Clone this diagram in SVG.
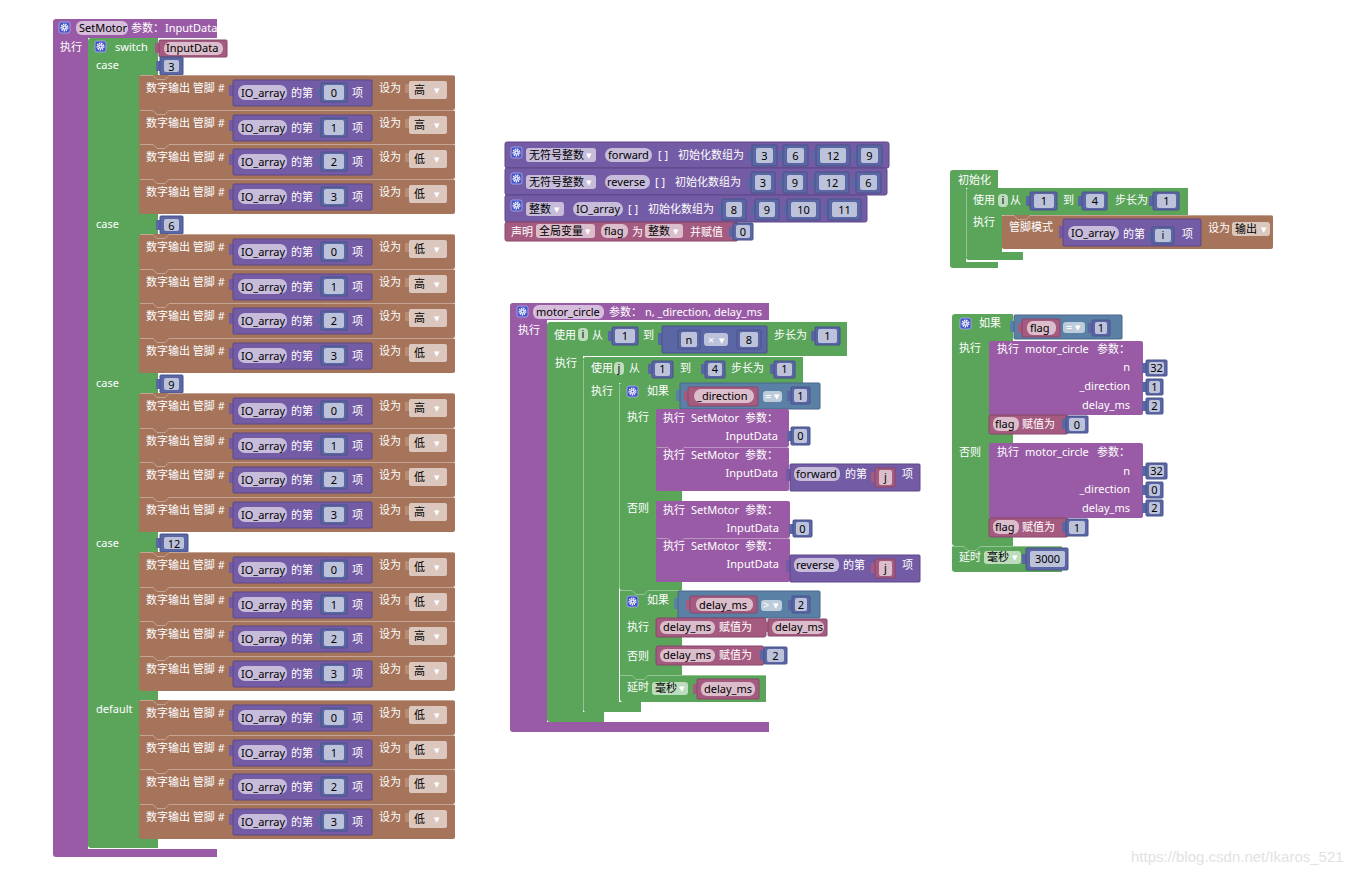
<svg xmlns="http://www.w3.org/2000/svg" width="1362" height="874" viewBox="0 0 1362 874">
<style>
.t{font-family:"Noto Sans","Noto Sans CJK SC",sans-serif;font-size:11px;fill:#fff}
.k{fill:#000}
.m{text-anchor:middle}
.e{text-anchor:end}
.ar{font-family:"DejaVu Sans",sans-serif;font-size:7px;fill:#fff}
.proc{fill:#995ba5}
.loop{fill:#5ba55b}
.io{fill:#a5745b}
.arr{fill:#745ba5;stroke:#5c4885;stroke-width:1}
.num{fill:#5b67a5;stroke:#48528a;stroke-width:1}
.var{fill:#a55b80;stroke:#86496a;stroke-width:1}
.cmp{fill:#5b80a5;stroke:#48678a;stroke-width:1}
.f{fill:#fff;fill-opacity:.6}
.hl{fill:none;stroke:#fff;stroke-opacity:.35;stroke-width:1}
.tA{fill:#745ba5}
.tN{fill:#5b67a5}
.tV{fill:#a55b80}
.tC{fill:#5b80a5}
.tB{fill:#b98c76}
</style>
<defs>
<g id="gear"><rect width="11" height="11" rx="2" fill="#4553c9" stroke="#aab2ee" stroke-width=".8"/><circle cx="5.5" cy="5.5" r="3.2" fill="none" stroke="#fff" stroke-width="1.6" stroke-dasharray="1.3 0.9"/><circle cx="5.5" cy="5.5" r="2.3" fill="#fff"/><circle cx="5.5" cy="5.5" r="1" fill="#4553c9"/></g>
<g id="ioRow">
<rect class="io" x="0" y="0" width="316" height="35" rx="2"/>
<path class="hl" d="M1,0.5 H14 l4,4 h8 l4,-4 H316"/>
<text class="t" x="7" y="17">数字输出 管脚 #</text>
<rect class="tA" x="90" y="10" width="5" height="11"/>
<rect class="arr" x="94" y="5" width="139" height="26" rx="1"/>
<rect class="f" x="99" y="10" width="49" height="15" rx="7"/>
<text class="t k" x="102" y="21.5">IO_array</text>
<text class="t" x="152" y="22">的第</text>
<rect class="tN" x="178" y="12" width="5" height="10"/>
<rect class="num" x="182" y="8" width="26" height="19" rx="1"/>
<rect class="f" x="185" y="10" width="20" height="15" rx="2"/>
<text class="t" x="213" y="22">项</text>
<text class="t" x="240" y="17">设为</text>
<rect class="tB" x="266" y="9" width="5" height="9"/>
<rect class="f" x="270" y="6" width="38" height="18" rx="2"/>
<text class="ar" x="295" y="18">▼</text>
</g>
</defs>
<rect width="1362" height="874" fill="#fff"/>

<!-- SetMotor procedure -->
<g id="setmotor">
<path class="proc" d="M53,22 q0,-3 3,-3 H217 V38 H88 V849 H217 V857 H56 q-3,0 -3,-3 Z"/>
<use href="#gear" x="59" y="22"/>
<rect class="f" x="76" y="21" width="52" height="14" rx="6"/>
<text class="t k" x="79" y="32">SetMotor</text>
<text class="t" x="131" y="32">参数：</text>
<text class="t" x="165" y="32">InputData</text>
<text class="t" x="60" y="51">执行</text>
</g>

<g id="switch">
<path class="loop" d="M88,41 q0,-3 3,-3 H158 V848 H91 q-3,0 -3,-3 Z"/>
<use href="#gear" x="95" y="41"/>
<text class="t" x="115" y="51">switch</text>
<rect class="tV" x="155" y="43" width="5" height="10"/>
<rect class="var" x="159" y="40" width="68" height="17" rx="1"/>
<rect class="f" x="164" y="42" width="59" height="13" rx="6"/>
<text class="t k" x="166" y="52">InputData</text>
</g>

<g id="case3">
<text class="t" x="96" y="69">case</text>
<rect class="tN" x="156" y="61" width="5" height="10"/>
<rect class="num" x="160" y="57" width="23" height="18" rx="1"/>
<rect class="f" x="164" y="60" width="15" height="12" rx="2"/>
<text class="t k m" x="171.5" y="70.5">3</text>
<use href="#ioRow" x="139" y="75"/><text class="t k m" x="334" y="97">0</text><text class="t k" x="414" y="94">高</text>
<use href="#ioRow" x="139" y="110"/><text class="t k m" x="334" y="132">1</text><text class="t k" x="414" y="129">高</text>
<use href="#ioRow" x="139" y="144"/><text class="t k m" x="334" y="166">2</text><text class="t k" x="414" y="163">低</text>
<use href="#ioRow" x="139" y="179"/><text class="t k m" x="334" y="201">3</text><text class="t k" x="414" y="198">低</text>
</g>

<g id="case6">
<text class="t" x="96" y="228">case</text>
<rect class="tN" x="156" y="220" width="5" height="10"/>
<rect class="num" x="160" y="216" width="23" height="18" rx="1"/>
<rect class="f" x="164" y="219" width="15" height="12" rx="2"/>
<text class="t k m" x="171.5" y="229.5">6</text>
<use href="#ioRow" x="139" y="234"/><text class="t k m" x="334" y="256">0</text><text class="t k" x="414" y="253">低</text>
<use href="#ioRow" x="139" y="269"/><text class="t k m" x="334" y="291">1</text><text class="t k" x="414" y="288">高</text>
<use href="#ioRow" x="139" y="303"/><text class="t k m" x="334" y="325">2</text><text class="t k" x="414" y="322">高</text>
<use href="#ioRow" x="139" y="338"/><text class="t k m" x="334" y="360">3</text><text class="t k" x="414" y="357">低</text>
</g>

<g id="case9">
<text class="t" x="96" y="387">case</text>
<rect class="tN" x="156" y="379" width="5" height="10"/>
<rect class="num" x="160" y="375" width="23" height="18" rx="1"/>
<rect class="f" x="164" y="378" width="15" height="12" rx="2"/>
<text class="t k m" x="171.5" y="388.5">9</text>
<use href="#ioRow" x="139" y="393"/><text class="t k m" x="334" y="415">0</text><text class="t k" x="414" y="412">高</text>
<use href="#ioRow" x="139" y="428"/><text class="t k m" x="334" y="450">1</text><text class="t k" x="414" y="447">低</text>
<use href="#ioRow" x="139" y="462"/><text class="t k m" x="334" y="484">2</text><text class="t k" x="414" y="481">低</text>
<use href="#ioRow" x="139" y="497"/><text class="t k m" x="334" y="519">3</text><text class="t k" x="414" y="516">高</text>
</g>

<g id="case12">
<text class="t" x="96" y="547">case</text>
<rect class="tN" x="156" y="538" width="5" height="10"/>
<rect class="num" x="160" y="534" width="28" height="18" rx="1"/>
<rect class="f" x="164" y="537" width="20" height="12" rx="2"/>
<text class="t k m" x="174" y="547.5">12</text>
<use href="#ioRow" x="139" y="552"/><text class="t k m" x="334" y="574">0</text><text class="t k" x="414" y="571">低</text>
<use href="#ioRow" x="139" y="587"/><text class="t k m" x="334" y="609">1</text><text class="t k" x="414" y="606">低</text>
<use href="#ioRow" x="139" y="621"/><text class="t k m" x="334" y="643">2</text><text class="t k" x="414" y="640">高</text>
<use href="#ioRow" x="139" y="656"/><text class="t k m" x="334" y="678">3</text><text class="t k" x="414" y="675">高</text>
</g>

<g id="default">
<text class="t" x="96" y="713">default</text>
<use href="#ioRow" x="139" y="700"/><text class="t k m" x="334" y="722">0</text><text class="t k" x="414" y="719">低</text>
<use href="#ioRow" x="139" y="735"/><text class="t k m" x="334" y="757">1</text><text class="t k" x="414" y="754">低</text>
<use href="#ioRow" x="139" y="769"/><text class="t k m" x="334" y="791">2</text><text class="t k" x="414" y="788">低</text>
<use href="#ioRow" x="139" y="804"/><text class="t k m" x="334" y="826">3</text><text class="t k" x="414" y="823">低</text>
</g>

<!-- Declarations -->
<g id="decl-forward">
<rect class="arr" x="505" y="142" width="384" height="26" rx="2"/>
<use href="#gear" x="511" y="147"/>
<rect class="f" x="526" y="148" width="70" height="14" rx="3"/>
<text class="t k" x="529" y="159">无符号整数</text><text class="ar" x="586" y="158">▼</text>
<rect class="f" x="605" y="148" width="47" height="14" rx="7"/>
<text class="t k" x="608" y="159">forward</text>
<text class="t" x="658" y="159">[ ]</text>
<text class="t" x="678" y="159">初始化数组为</text>
<rect class="tN" x="748" y="151" width="5" height="10"/><rect class="num" x="752" y="145" width="25" height="21" rx="1"/><rect class="f" x="756" y="148" width="17" height="15" rx="2"/><text class="t k m" x="764.5" y="160">3</text>
<rect class="tN" x="779" y="151" width="5" height="10"/><rect class="num" x="783" y="145" width="25" height="21" rx="1"/><rect class="f" x="787" y="148" width="17" height="15" rx="2"/><text class="t k m" x="795.5" y="160">6</text>
<rect class="tN" x="812" y="151" width="5" height="10"/><rect class="num" x="816" y="145" width="34" height="21" rx="1"/><rect class="f" x="820" y="148" width="26" height="15" rx="2"/><text class="t k m" x="833" y="160">12</text>
<rect class="tN" x="853" y="151" width="5" height="10"/><rect class="num" x="857" y="145" width="25" height="21" rx="1"/><rect class="f" x="861" y="148" width="17" height="15" rx="2"/><text class="t k m" x="869.5" y="160">9</text>
</g>

<g id="decl-reverse">
<rect class="arr" x="505" y="168" width="382" height="27" rx="2"/>
<use href="#gear" x="511" y="173"/>
<rect class="f" x="526" y="175" width="70" height="14" rx="3"/>
<text class="t k" x="529" y="186">无符号整数</text><text class="ar" x="586" y="185">▼</text>
<rect class="f" x="605" y="175" width="45" height="14" rx="7"/>
<text class="t k" x="607" y="186">reverse</text>
<text class="t" x="655" y="186">[ ]</text>
<text class="t" x="675" y="186">初始化数组为</text>
<rect class="tN" x="747" y="178" width="5" height="10"/><rect class="num" x="751" y="172" width="24" height="21" rx="1"/><rect class="f" x="755" y="175" width="16" height="15" rx="2"/><text class="t k m" x="763" y="187">3</text>
<rect class="tN" x="779" y="178" width="5" height="10"/><rect class="num" x="783" y="172" width="24" height="21" rx="1"/><rect class="f" x="787" y="175" width="16" height="15" rx="2"/><text class="t k m" x="795" y="187">9</text>
<rect class="tN" x="811" y="178" width="5" height="10"/><rect class="num" x="815" y="172" width="34" height="21" rx="1"/><rect class="f" x="819" y="175" width="26" height="15" rx="2"/><text class="t k m" x="832" y="187">12</text>
<rect class="tN" x="852" y="178" width="5" height="10"/><rect class="num" x="856" y="172" width="25" height="21" rx="1"/><rect class="f" x="860" y="175" width="17" height="15" rx="2"/><text class="t k m" x="868.5" y="187">6</text>
</g>

<g id="decl-ioarray">
<rect class="arr" x="505" y="195" width="362" height="27" rx="2"/>
<use href="#gear" x="511" y="200"/>
<rect class="f" x="526" y="202" width="38" height="14" rx="3"/>
<text class="t k" x="529" y="213">整数</text><text class="ar" x="554" y="212">▼</text>
<rect class="f" x="573" y="202" width="50" height="14" rx="7"/>
<text class="t k" x="576" y="213">IO_array</text>
<text class="t" x="628" y="213">[ ]</text>
<text class="t" x="648" y="213">初始化数组为</text>
<rect class="tN" x="718" y="205" width="5" height="10"/><rect class="num" x="722" y="199" width="24" height="21" rx="1"/><rect class="f" x="726" y="202" width="16" height="15" rx="2"/><text class="t k m" x="734" y="214">8</text>
<rect class="tN" x="751" y="205" width="5" height="10"/><rect class="num" x="755" y="199" width="24" height="21" rx="1"/><rect class="f" x="759" y="202" width="16" height="15" rx="2"/><text class="t k m" x="767" y="214">9</text>
<rect class="tN" x="783" y="205" width="5" height="10"/><rect class="num" x="787" y="199" width="33" height="21" rx="1"/><rect class="f" x="791" y="202" width="25" height="15" rx="2"/><text class="t k m" x="803.5" y="214">10</text>
<rect class="tN" x="824" y="205" width="5" height="10"/><rect class="num" x="828" y="199" width="33" height="21" rx="1"/><rect class="f" x="832" y="202" width="25" height="15" rx="2"/><text class="t k m" x="844.5" y="214">11</text>
</g>

<g id="decl-flag">
<rect class="var" x="505" y="222" width="233" height="19" rx="2"/>
<text class="t" x="511" y="236">声明</text>
<rect class="f" x="536" y="224" width="59" height="14" rx="3"/>
<text class="t k" x="539" y="235">全局变量</text><text class="ar" x="585" y="234">▼</text>
<rect class="f" x="601" y="224" width="27" height="14" rx="6"/>
<text class="t k" x="604" y="235">flag</text>
<text class="t" x="632" y="236">为</text>
<rect class="f" x="645" y="224" width="38" height="14" rx="3"/>
<text class="t k" x="648" y="235">整数</text><text class="ar" x="673" y="234">▼</text>
<text class="t" x="690" y="236">并赋值</text>
<rect class="tN" x="729" y="227" width="5" height="10"/><rect class="num" x="733" y="223" width="20" height="17" rx="1"/><rect class="f" x="736" y="225" width="14" height="13" rx="2"/><text class="t k m" x="743" y="236">0</text>
</g>

<!-- motor_circle procedure -->
<g id="motor_circle">
<path class="proc" d="M510,306 q0,-3 3,-3 H769 V320 H547 V722 H769 V732 H513 q-3,0 -3,-3 Z"/>
<use href="#gear" x="517" y="306"/>
<rect class="f" x="533" y="305" width="71" height="14" rx="6"/>
<text class="t k" x="536" y="316">motor_circle</text>
<text class="t" x="609" y="316">参数：</text>
<text class="t" x="645" y="316">n, _direction, delay_ms</text>
<text class="t" x="518" y="334">执行</text>
</g>

<g id="loop-i">
<path class="loop" d="M547,325 q0,-3 3,-3 H847 V356 H583 V712 H604 V722 H550 q-3,0 -3,-3 Z"/>
<text class="t" x="554" y="339">使用</text>
<rect class="f" x="578" y="328" width="10" height="13" rx="4"/><text class="t k m" x="583" y="338">i</text>
<text class="t" x="592" y="339">从</text>
<rect class="tN" x="608" y="331" width="5" height="10"/><rect class="num" x="612" y="327" width="26" height="18" rx="1"/><rect class="f" x="615" y="329" width="20" height="14" rx="2"/><text class="t k m" x="625" y="340">1</text>
<text class="t" x="643" y="339">到</text>
<rect class="tN" x="658" y="333" width="5" height="12"/>
<rect class="num" x="662" y="326" width="105" height="27" rx="1"/>
<rect class="tN" x="674" y="334" width="5" height="10"/><rect class="num" x="678" y="330" width="22" height="19" rx="1"/><rect class="f" x="681" y="332" width="16" height="15" rx="2"/><text class="t k m" x="689" y="344">n</text>
<rect class="f" x="704" y="333" width="24" height="13" rx="3"/><text class="t" x="708" y="344">×</text><text class="ar" x="719" y="343">▼</text>
<rect class="tN" x="733" y="334" width="5" height="10"/><rect class="num" x="737" y="330" width="24" height="19" rx="1"/><rect class="f" x="740" y="332" width="18" height="15" rx="2"/><text class="t k m" x="749" y="344">8</text>
<text class="t" x="774" y="339">步长为</text>
<rect class="tN" x="811" y="331" width="5" height="10"/><rect class="num" x="815" y="327" width="25" height="18" rx="1"/><rect class="f" x="818" y="329" width="19" height="14" rx="2"/><text class="t k m" x="827.5" y="340">1</text>
<text class="t" x="555" y="367">执行</text>
</g>

<g id="loop-j">
<path class="loop" d="M583,360 q0,-3 3,-3 H803 V383 H619 V702 H641 V712 H586 q-3,0 -3,-3 Z"/>
<path class="hl" d="M583.5,712 V360"/>
<text class="t" x="591" y="372">使用</text>
<rect class="f" x="614" y="362" width="10" height="13" rx="4"/><text class="t k m" x="619" y="372">j</text>
<text class="t" x="629" y="372">从</text>
<rect class="tN" x="648" y="364" width="5" height="10"/><rect class="num" x="652" y="361" width="21" height="17" rx="1"/><rect class="f" x="655" y="363" width="15" height="13" rx="2"/><text class="t k m" x="662.5" y="373">1</text>
<text class="t" x="680" y="372">到</text>
<rect class="tN" x="701" y="364" width="5" height="10"/><rect class="num" x="705" y="361" width="20" height="17" rx="1"/><rect class="f" x="708" y="363" width="14" height="13" rx="2"/><text class="t k m" x="715" y="373">4</text>
<text class="t" x="731" y="372">步长为</text>
<rect class="tN" x="770" y="364" width="5" height="10"/><rect class="num" x="774" y="361" width="21" height="17" rx="1"/><rect class="f" x="777" y="363" width="15" height="13" rx="2"/><text class="t k m" x="784.5" y="373">1</text>
<text class="t" x="591" y="395">执行</text>
</g>

<g id="if-direction">
<path class="loop" d="M619,386 q0,-3 3,-3 H682 V590 H622 q-3,0 -3,-3 Z"/>
<path class="hl" d="M619.5,590 V386"/>
<use href="#gear" x="627" y="386"/>
<text class="t" x="647" y="395">如果</text>
<rect class="tC" x="676" y="390" width="5" height="11"/>
<rect class="cmp" x="680" y="383" width="140" height="26" rx="1"/>
<rect class="tV" x="684" y="391" width="5" height="10"/><rect class="var" x="688" y="387" width="70" height="19" rx="1"/>
<rect class="f" x="694" y="389" width="60" height="14" rx="7"/><text class="t k" x="697" y="400">_direction</text>
<rect class="f" x="763" y="391" width="19" height="11" rx="3"/><text class="t" x="765" y="400">=</text><text class="ar" x="774" y="399">▼</text>
<rect class="tN" x="787" y="391" width="5" height="10"/><rect class="num" x="791" y="387" width="19" height="17" rx="1"/><rect class="f" x="794" y="389" width="13" height="13" rx="2"/><text class="t k m" x="800.5" y="400">1</text>
<text class="t" x="627" y="421">执行</text>
<text class="t" x="627" y="512">否则</text>
</g>

<g id="call-setmotor-1">
<rect class="proc" x="656" y="409" width="133" height="38" rx="2"/>
<text class="t" y="422"><tspan x="663">执行</tspan><tspan x="691">SetMotor</tspan><tspan x="745">参数：</tspan></text>
<text class="t e" x="778" y="440">InputData</text>
<rect class="tN" x="787" y="431" width="5" height="10"/><rect class="num" x="791" y="427" width="19" height="18" rx="1"/><rect class="f" x="794" y="429" width="13" height="14" rx="2"/><text class="t k m" x="800.5" y="440">0</text>
</g>

<g id="call-setmotor-2">
<rect class="proc" x="656" y="447" width="133" height="44" rx="2"/>
<path class="hl" d="M657,447.5 H668 l4,4 h8 l4,-4 H789"/>
<text class="t" y="459"><tspan x="663">执行</tspan><tspan x="691">SetMotor</tspan><tspan x="745">参数：</tspan></text>
<text class="t e" x="778" y="477">InputData</text>
<rect class="tA" x="786" y="469" width="5" height="12"/>
<rect class="arr" x="790" y="464" width="130" height="27" rx="1"/>
<rect class="f" x="794" y="467" width="46" height="14" rx="6"/><text class="t k" x="796" y="478">forward</text>
<text class="t" x="845" y="478">的第</text>
<rect class="tV" x="871" y="472" width="5" height="10"/><rect class="var" x="875" y="468" width="20" height="19" rx="1"/><rect class="f" x="879" y="470" width="13" height="15" rx="2"/><text class="t k m" x="885.5" y="481">j</text>
<text class="t" x="902" y="478">项</text>
</g>

<g id="call-setmotor-3">
<rect class="proc" x="656" y="501" width="134" height="37" rx="2"/>
<text class="t" y="514"><tspan x="663">执行</tspan><tspan x="691">SetMotor</tspan><tspan x="745">参数：</tspan></text>
<text class="t e" x="779" y="532">InputData</text>
<rect class="tN" x="789" y="524" width="5" height="10"/><rect class="num" x="793" y="520" width="19" height="17" rx="1"/><rect class="f" x="796" y="522" width="13" height="13" rx="2"/><text class="t k m" x="802.5" y="533">0</text>
</g>

<g id="call-setmotor-4">
<rect class="proc" x="656" y="538" width="134" height="44" rx="2"/>
<path class="hl" d="M657,538.5 H668 l4,4 h8 l4,-4 H790"/>
<text class="t" y="550"><tspan x="663">执行</tspan><tspan x="691">SetMotor</tspan><tspan x="745">参数：</tspan></text>
<text class="t e" x="779" y="568">InputData</text>
<rect class="tA" x="786" y="560" width="5" height="12"/>
<rect class="arr" x="790" y="555" width="130" height="27" rx="1"/>
<rect class="f" x="794" y="558" width="45" height="14" rx="6"/><text class="t k" x="796" y="569">reverse</text>
<text class="t" x="843" y="569">的第</text>
<rect class="tV" x="871" y="563" width="5" height="10"/><rect class="var" x="875" y="559" width="20" height="19" rx="1"/><rect class="f" x="879" y="561" width="13" height="15" rx="2"/><text class="t k m" x="885.5" y="572">j</text>
<text class="t" x="902" y="569">项</text>
</g>

<g id="if-delay">
<path class="loop" d="M620,590 H682 V675 H620 Z"/>
<path class="hl" d="M620,590.5 H632 l4,4 h8 l4,-4 H682"/>
<use href="#gear" x="627" y="596"/>
<text class="t" x="647" y="604">如果</text>
<rect class="tC" x="674" y="598" width="5" height="11"/>
<rect class="cmp" x="678" y="591" width="142" height="27" rx="1"/>
<rect class="tV" x="686" y="600" width="5" height="10"/><rect class="var" x="690" y="596" width="67" height="17" rx="1"/>
<rect class="f" x="696" y="598" width="57" height="13" rx="6"/><text class="t k" x="699" y="609">delay_ms</text>
<rect class="f" x="761" y="600" width="21" height="11" rx="3"/><text class="t" x="763" y="609">&gt;</text><text class="ar" x="773" y="608">▼</text>
<rect class="tN" x="788" y="600" width="5" height="10"/><rect class="num" x="792" y="596" width="18" height="17" rx="1"/><rect class="f" x="795" y="598" width="12" height="13" rx="2"/><text class="t k m" x="801" y="609">2</text>
<text class="t" x="627" y="631">执行</text>
<text class="t" x="627" y="660">否则</text>
</g>

<g id="assign-delay-1">
<rect class="var" x="656" y="618" width="110" height="19" rx="2"/>
<rect class="f" x="660" y="621" width="55" height="13" rx="6"/><text class="t k" x="663" y="631">delay_ms</text>
<text class="t" x="719" y="631">赋值为</text>
<rect class="tV" x="764" y="622" width="5" height="10"/><rect class="var" x="768" y="619" width="59" height="17" rx="1"/>
<rect class="f" x="772" y="621" width="52" height="13" rx="6"/><text class="t k" x="775" y="631">delay_ms</text>
</g>

<g id="assign-delay-2">
<rect class="var" x="656" y="646" width="108" height="19" rx="2"/>
<rect class="f" x="660" y="649" width="55" height="13" rx="6"/><text class="t k" x="663" y="659">delay_ms</text>
<text class="t" x="719" y="659">赋值为</text>
<rect class="tN" x="760" y="650" width="5" height="10"/><rect class="num" x="764" y="647" width="23" height="17" rx="1"/><rect class="f" x="767" y="649" width="17" height="13" rx="2"/><text class="t k m" x="775.5" y="660">2</text>
</g>

<g id="delay-1">
<path class="loop" d="M620,675 H766 V702 H623 q-3,0 -3,-3 Z"/>
<path class="hl" d="M620,675.5 H632 l4,4 h8 l4,-4 H766"/>
<text class="t" x="627" y="691">延时</text>
<rect class="f" x="652" y="682" width="36" height="13" rx="3"/><text class="t k" x="655" y="692">毫秒</text><text class="ar" x="679" y="691">▼</text>
<rect class="tV" x="693" y="684" width="5" height="10"/><rect class="var" x="697" y="679" width="62" height="20" rx="1"/>
<rect class="f" x="701" y="682" width="54" height="14" rx="6"/><text class="t k" x="704" y="693">delay_ms</text>
</g>

<!-- setup -->
<g id="setup">
<path class="loop" d="M950,173 q0,-3 3,-3 H998 V188 H966 V262 H998 V268 H953 q-3,0 -3,-3 Z"/>
<text class="t" x="958" y="184">初始化</text>
</g>

<g id="loop-setup">
<path class="loop" d="M966,191 q0,-3 3,-3 H1188 V215 H1002 V252 H1023 V260 H969 q-3,0 -3,-3 Z"/>
<path class="hl" d="M966.5,257 V191"/>
<text class="t" x="973" y="204">使用</text>
<rect class="f" x="998" y="194" width="10" height="13" rx="4"/><text class="t k m" x="1003" y="204">i</text>
<text class="t" x="1010" y="204">从</text>
<rect class="tN" x="1026" y="196" width="5" height="10"/><rect class="num" x="1030" y="192" width="27" height="18" rx="1"/><rect class="f" x="1034" y="194" width="20" height="14" rx="2"/><text class="t k m" x="1044" y="205">1</text>
<text class="t" x="1063" y="204">到</text>
<rect class="tN" x="1078" y="196" width="5" height="10"/><rect class="num" x="1082" y="192" width="25" height="18" rx="1"/><rect class="f" x="1086" y="194" width="18" height="14" rx="2"/><text class="t k m" x="1095" y="205">4</text>
<text class="t" x="1115" y="204">步长为</text>
<rect class="tN" x="1149" y="196" width="5" height="10"/><rect class="num" x="1153" y="192" width="26" height="18" rx="1"/><rect class="f" x="1157" y="194" width="19" height="14" rx="2"/><text class="t k m" x="1166.5" y="205">1</text>
<text class="t" x="973" y="226">执行</text>
</g>

<g id="pinmode">
<rect class="io" x="1002" y="215" width="271" height="34" rx="2"/>
<path class="hl" d="M1003,215.5 H1014 l4,4 h8 l4,-4 H1273"/>
<text class="t" x="1009" y="231">管脚模式</text>
<rect class="tA" x="1059" y="226" width="5" height="12"/>
<rect class="arr" x="1063" y="219" width="138" height="27" rx="1"/>
<rect class="f" x="1068" y="226" width="51" height="14" rx="7"/><text class="t k" x="1071" y="237">IO_array</text>
<text class="t" x="1123" y="238">的第</text>
<rect class="tN" x="1148" y="231" width="5" height="10"/><rect class="num" x="1152" y="227" width="22" height="17" rx="1"/><rect class="f" x="1155" y="229" width="16" height="13" rx="2"/><text class="t k m" x="1163" y="239">i</text>
<text class="t" x="1182" y="238">项</text>
<text class="t" x="1208" y="232">设为</text>
<rect class="f" x="1232" y="222" width="38" height="14" rx="3"/><text class="t k" x="1235" y="233">输出</text><text class="ar" x="1261" y="232">▼</text>
</g>

<!-- if flag -->
<g id="if-flag">
<path class="loop" d="M952,317 q0,-3 3,-3 H1013 V546 H955 q-3,0 -3,-3 Z"/>
<use href="#gear" x="960" y="318"/>
<text class="t" x="979" y="327">如果</text>
<rect class="tC" x="1010" y="321" width="5" height="11"/>
<rect class="cmp" x="1014" y="315" width="108" height="24" rx="1"/>
<rect class="tV" x="1018" y="323" width="5" height="10"/><rect class="var" x="1022" y="319" width="38" height="18" rx="1"/>
<rect class="f" x="1027" y="321" width="29" height="14" rx="6"/><text class="t k" x="1030" y="332">flag</text>
<rect class="f" x="1063" y="322" width="22" height="11" rx="3"/><text class="t" x="1066" y="331">=</text><text class="ar" x="1075" y="330">▼</text>
<rect class="tN" x="1088" y="323" width="5" height="10"/><rect class="num" x="1092" y="320" width="18" height="16" rx="1"/><rect class="f" x="1095" y="322" width="12" height="12" rx="2"/><text class="t k m" x="1101" y="332">1</text>
<text class="t" x="959" y="352">执行</text>
<text class="t" x="959" y="456">否则</text>
</g>

<g id="call-mc-1">
<rect class="proc" x="989" y="341" width="154" height="74" rx="2"/>
<text class="t" y="353"><tspan x="997">执行</tspan><tspan x="1025">motor_circle</tspan><tspan x="1097">参数：</tspan></text>
<text class="t e" x="1130" y="371">n</text>
<rect class="tN" x="1142" y="363" width="5" height="10"/><rect class="num" x="1146" y="360" width="21" height="16" rx="1"/><rect class="f" x="1149" y="362" width="15" height="12" rx="2"/><text class="t k m" x="1156.5" y="372">32</text>
<text class="t e" x="1130" y="390">_direction</text>
<rect class="tN" x="1142" y="382" width="5" height="10"/><rect class="num" x="1146" y="379" width="17" height="16" rx="1"/><rect class="f" x="1149" y="381" width="11" height="12" rx="2"/><text class="t k m" x="1154.5" y="391">1</text>
<text class="t e" x="1130" y="409">delay_ms</text>
<rect class="tN" x="1142" y="401" width="5" height="10"/><rect class="num" x="1146" y="398" width="17" height="16" rx="1"/><rect class="f" x="1149" y="400" width="11" height="12" rx="2"/><text class="t k m" x="1154.5" y="410">2</text>
</g>

<g id="assign-flag-0">
<rect class="var" x="989" y="415" width="79" height="19" rx="2"/>
<rect class="f" x="993" y="417" width="26" height="14" rx="6"/><text class="t k" x="995" y="428">flag</text>
<text class="t" x="1022" y="428">赋值为</text>
<rect class="tN" x="1062" y="419" width="5" height="10"/><rect class="num" x="1066" y="416" width="22" height="17" rx="1"/><rect class="f" x="1069" y="418" width="16" height="13" rx="2"/><text class="t k m" x="1077" y="429">0</text>
</g>

<g id="call-mc-2">
<rect class="proc" x="989" y="443" width="154" height="75" rx="2"/>
<text class="t" y="456"><tspan x="997">执行</tspan><tspan x="1025">motor_circle</tspan><tspan x="1097">参数：</tspan></text>
<text class="t e" x="1130" y="475">n</text>
<rect class="tN" x="1142" y="466" width="5" height="10"/><rect class="num" x="1146" y="463" width="21" height="16" rx="1"/><rect class="f" x="1149" y="465" width="15" height="12" rx="2"/><text class="t k m" x="1156.5" y="475">32</text>
<text class="t e" x="1130" y="493">_direction</text>
<rect class="tN" x="1142" y="485" width="5" height="10"/><rect class="num" x="1146" y="482" width="17" height="16" rx="1"/><rect class="f" x="1149" y="484" width="11" height="12" rx="2"/><text class="t k m" x="1154.5" y="494">0</text>
<text class="t e" x="1130" y="512">delay_ms</text>
<rect class="tN" x="1142" y="503" width="5" height="10"/><rect class="num" x="1146" y="500" width="17" height="16" rx="1"/><rect class="f" x="1149" y="502" width="11" height="12" rx="2"/><text class="t k m" x="1154.5" y="512">2</text>
</g>

<g id="assign-flag-1">
<rect class="var" x="989" y="518" width="79" height="19" rx="2"/>
<rect class="f" x="993" y="520" width="26" height="14" rx="6"/><text class="t k" x="995" y="531">flag</text>
<text class="t" x="1022" y="531">赋值为</text>
<rect class="tN" x="1062" y="522" width="5" height="10"/><rect class="num" x="1066" y="519" width="22" height="17" rx="1"/><rect class="f" x="1069" y="521" width="16" height="13" rx="2"/><text class="t k m" x="1077" y="532">1</text>
</g>

<g id="delay-2">
<path class="loop" d="M952,546 H1062 V572 H955 q-3,0 -3,-3 Z"/>
<path class="hl" d="M952,546.5 H964 l4,4 h8 l4,-4 H1062"/>
<text class="t" x="959" y="561">延时</text>
<rect class="f" x="984" y="551" width="37" height="13" rx="3"/><text class="t k" x="987" y="561">毫秒</text><text class="ar" x="1012" y="560">▼</text>
<rect class="tN" x="1022" y="554" width="5" height="10"/><rect class="num" x="1026" y="548" width="42" height="22" rx="1"/><rect class="f" x="1030" y="551" width="35" height="16" rx="2"/><text class="t k m" x="1047.5" y="563">3000</text>
</g>

<text x="1131" y="862" font-family="Liberation Sans, Arial, sans-serif" font-size="15" fill="#e2e2e2">https://blog.csdn.net/Ikaros_521</text>
</svg>
